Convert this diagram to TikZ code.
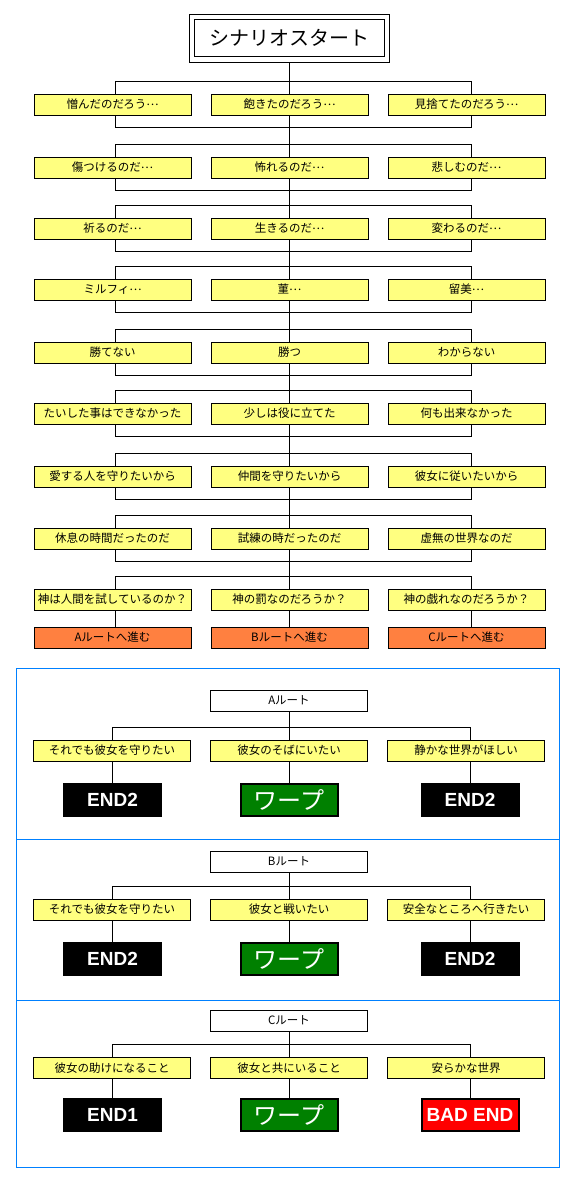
\documentclass[tikz,border=0pt]{standalone}
\usepackage{fontspec}
\setmainfont{Noto Sans CJK JP}
\newfontfamily\endfont{Liberation Sans}
\newcommand\tdots{\raisebox{.3em}{…}}
\usepackage{tikz}
\usetikzlibrary{positioning}
\definecolor{pale}{HTML}{FFFF80}
\definecolor{route}{HTML}{FF8040}
\definecolor{warpgreen}{HTML}{008000}
\definecolor{badred}{HTML}{FF0000}
\definecolor{framecol}{HTML}{0080FF}

\begin{document}
\begin{tikzpicture}[x=1pt,y=-1pt,line width=1pt,every node/.style={font=\fontsize{11.5}{13}\selectfont,inner sep=0pt,text height=9.8pt,text depth=1pt},
choice/.style={draw,fill=pale,minimum width=157pt,minimum height=21pt},
goto/.style={draw,fill=route,minimum width=157pt,minimum height=21pt},
routebox/.style={draw,fill=white,minimum width=157pt,minimum height=21pt},
ending/.style={fill=#1,text=white,minimum width=99pt,minimum height=34pt,font=\endfont\bfseries\fontsize{19}{20}\selectfont,text height=13.6pt,text depth=0pt},
badend/.style={ending=badred,draw=black,line width=2pt,minimum width=97pt,minimum height=32pt},
warp/.style={draw,line width=2pt,fill=warpgreen,text=white,minimum width=97pt,minimum height=32pt,font=\fontsize{24}{26}\selectfont,text height=20pt,text depth=1.8pt},
frame/.style={draw=framecol}]
\useasboundingbox (0,0) rectangle (581,1189);
\coordinate (xl) at (115,0);
\coordinate (xr) at (471,0);
\node[draw,double,double distance=4.5pt,minimum width=195pt,minimum height=42.5pt,font=\fontsize{20}{22}\selectfont,text height=17pt,text depth=1.8pt] (start) at (289.5,38) {シナリオスタート};
\foreach \y/\a/\b/\c [count=\i] in {
104.5/憎んだのだろう\tdots/飽きたのだろう\tdots/見捨てたのだろう\tdots,
167.5/傷つけるのだ\tdots/怖れるのだ\tdots/悲しむのだ\tdots,
228.5/祈るのだ\tdots/生きるのだ\tdots/変わるのだ\tdots,
289.5/ミルフィ\tdots/菫\tdots/留美\tdots,
352.5/勝てない/勝つ/わからない,
413.5/たいした事はできなかった/少しは役に立てた/何も出来なかった,
476.5/愛する人を守りたいから/仲間を守りたいから/彼女に従いたいから,
538.5/休息の時間だったのだ/試練の時だったのだ/虚無の世界なのだ,
599.5/神は人間を試しているのか？/神の罰なのだろうか？/神の戯れなのだろうか？}{
\node[choice] (m\i) at (289.5,\y) {\b};
\node[choice,left=19pt of m\i] (l\i) {\a};
\node[choice,right=19pt of m\i] (r\i) {\c};
\draw (l\i.north -| xl) -- ++(0,-12.5) -| (r\i.north -| xr);
}
\draw[shorten <=3.25pt] (start) -- (m1);
\foreach \i [count=\j from 2] in {1,...,8}{
\draw (l\i.south -| xl) -- ++(0,12) -| (r\i.south -| xr);
\draw (m\i) -- (m\j);
}
\node[goto] (gb) at (289.5,637.5) {Bルートへ進む};
\node[goto,left=19pt of gb] (ga) {Aルートへ進む};
\node[goto,right=19pt of gb] (gc) {Cルートへ進む};
\draw (l9.south -| xl) -- (ga.north -| xl);
\draw (m9) -- (gb);
\draw (r9.south -| xr) -- (gc.north -| xr);

\draw[frame] (16.5,668.5) rectangle (559.5,1167.5);
\draw[frame] (16.5,839.5) -- (559.5,839.5);
\draw[frame] (16.5,1000.5) -- (559.5,1000.5);

\node[routebox] (ra) at (289,700.5) {Aルート};
\node[choice] (a2) at (289,750.5) {彼女のそばにいたい};
\node[choice,left=19pt of a2] (a1) {それでも彼女を守りたい};
\node[choice,right=19pt of a2] (a3) {静かな世界がほしい};
\node[ending=black] (ea1) at (112.5,800) {END2};
\node[warp] (ea2) at (289,800) {ワープ};
\node[ending=black] (ea3) at (470,800) {END2};
\draw (ra) -- (a2);
\draw (a1.north -| ea1) -- ++(0,-12.5) -| (a3.north -| ea3);
\draw (a1.south -| ea1) -- (ea1);
\draw (a2) -- (ea2);
\draw (a3.south -| ea3) -- (ea3);

\node[routebox] (rb) at (289,861.5) {Bルート};
\node[choice] (b2) at (289,909.5) {彼女と戦いたい};
\node[choice,left=19pt of b2] (b1) {それでも彼女を守りたい};
\node[choice,right=19pt of b2] (b3) {安全なところへ行きたい};
\node[ending=black] (eb1) at (112.5,959) {END2};
\node[warp] (eb2) at (289,959) {ワープ};
\node[ending=black] (eb3) at (470,959) {END2};
\draw (rb) -- (b2);
\draw (b1.north -| eb1) -- ++(0,-12.5) -| (b3.north -| eb3);
\draw (b1.south -| eb1) -- (eb1);
\draw (b2) -- (eb2);
\draw (b3.south -| eb3) -- (eb3);

\node[routebox] (rc) at (289,1020.5) {Cルート};
\node[choice] (c2) at (289,1068) {彼女と共にいること};
\node[choice,left=19pt of c2] (c1) {彼女の助けになること};
\node[choice,right=19pt of c2] (c3) {安らかな世界};
\node[ending=black] (ec1) at (112.5,1115) {END1};
\node[warp] (ec2) at (289,1115) {ワープ};
\node[badend] (ec3) at (470,1115) {BAD END};
\draw (rc) -- (c2);
\draw (c1.north -| ec1) -- ++(0,-12.5) -| (c3.north -| ec3);
\draw (c1.south -| ec1) -- (ec1);
\draw (c2) -- (ec2);
\draw (c3.south -| ec3) -- (ec3);
\end{tikzpicture}
\end{document}
